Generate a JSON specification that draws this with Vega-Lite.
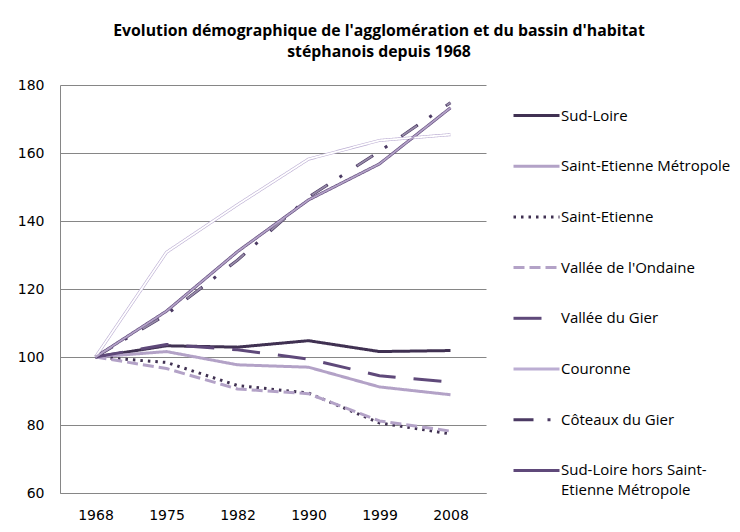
{
  "$schema": "https://vega.github.io/schema/vega-lite/v6.json",
  "autosize": "none",
  "width": 426,
  "height": 408,
  "padding": {"left": 60, "top": 85, "right": 254, "bottom": 39},
  "background": "white",
  "title": {
    "text": ["Evolution démographique de l'agglomération et du bassin d'habitat", "stéphanois depuis 1968"],
    "font": "Open Sans",
    "fontSize": 15.8,
    "fontWeight": "bold",
    "color": "#000000",
    "lineHeight": 21,
    "anchor": "middle",
    "dx": 106,
    "offset": 17
  },
  "config": {
    "view": {"stroke": null},
    "axis": {"labelFont": "DejaVu Sans", "labelFontSize": 14, "labelColor": "#000000", "domainColor": "#868686", "gridColor": "#868686", "ticks": false, "title": null}
  },
  "data": {
    "values": [
      {"series": "Sud-Loire", "year": "1968", "value": 100},
      {"series": "Sud-Loire", "year": "1975", "value": 103.3},
      {"series": "Sud-Loire", "year": "1982", "value": 102.9},
      {"series": "Sud-Loire", "year": "1990", "value": 104.8},
      {"series": "Sud-Loire", "year": "1999", "value": 101.6},
      {"series": "Sud-Loire", "year": "2008", "value": 101.9},
      {"series": "Saint-Etienne Métropole", "year": "1968", "value": 100},
      {"series": "Saint-Etienne Métropole", "year": "1975", "value": 101.6},
      {"series": "Saint-Etienne Métropole", "year": "1982", "value": 97.7},
      {"series": "Saint-Etienne Métropole", "year": "1990", "value": 97.0},
      {"series": "Saint-Etienne Métropole", "year": "1999", "value": 91.2},
      {"series": "Saint-Etienne Métropole", "year": "2008", "value": 88.9},
      {"series": "Saint-Etienne", "year": "1968", "value": 100},
      {"series": "Saint-Etienne", "year": "1975", "value": 98.4},
      {"series": "Saint-Etienne", "year": "1982", "value": 91.6},
      {"series": "Saint-Etienne", "year": "1990", "value": 89.4},
      {"series": "Saint-Etienne", "year": "1999", "value": 80.6},
      {"series": "Saint-Etienne", "year": "2008", "value": 77.4},
      {"series": "Vallée de l'Ondaine", "year": "1968", "value": 100},
      {"series": "Vallée de l'Ondaine", "year": "1975", "value": 96.6},
      {"series": "Vallée de l'Ondaine", "year": "1982", "value": 90.6},
      {"series": "Vallée de l'Ondaine", "year": "1990", "value": 89.2},
      {"series": "Vallée de l'Ondaine", "year": "1999", "value": 81.2},
      {"series": "Vallée de l'Ondaine", "year": "2008", "value": 78.2},
      {"series": "Vallée du Gier", "year": "1968", "value": 100},
      {"series": "Vallée du Gier", "year": "1975", "value": 103.7},
      {"series": "Vallée du Gier", "year": "1982", "value": 102.1},
      {"series": "Vallée du Gier", "year": "1990", "value": 99.4},
      {"series": "Vallée du Gier", "year": "1999", "value": 94.5},
      {"series": "Vallée du Gier", "year": "2008", "value": 92.6},
      {"series": "Couronne", "year": "1968", "value": 100},
      {"series": "Couronne", "year": "1975", "value": 130.8},
      {"series": "Couronne", "year": "1982", "value": 144.8},
      {"series": "Couronne", "year": "1990", "value": 158.2},
      {"series": "Couronne", "year": "1999", "value": 163.7},
      {"series": "Couronne", "year": "2008", "value": 165.4},
      {"series": "Côteaux du Gier", "year": "1968", "value": 100},
      {"series": "Côteaux du Gier", "year": "1975", "value": 112.5},
      {"series": "Côteaux du Gier", "year": "1982", "value": 128.5},
      {"series": "Côteaux du Gier", "year": "1990", "value": 147.0},
      {"series": "Côteaux du Gier", "year": "1999", "value": 160.5},
      {"series": "Côteaux du Gier", "year": "2008", "value": 174.8},
      {"series": "Sud-Loire hors Saint-Etienne Métropole", "year": "1968", "value": 100},
      {"series": "Sud-Loire hors Saint-Etienne Métropole", "year": "1975", "value": 113.5},
      {"series": "Sud-Loire hors Saint-Etienne Métropole", "year": "1982", "value": 131.0},
      {"series": "Sud-Loire hors Saint-Etienne Métropole", "year": "1990", "value": 146.2},
      {"series": "Sud-Loire hors Saint-Etienne Métropole", "year": "1999", "value": 156.8},
      {"series": "Sud-Loire hors Saint-Etienne Métropole", "year": "2008", "value": 173.3}
    ]
  },
  "encoding": {
    "x": {"field": "year", "type": "ordinal", "scale": {"type": "point", "padding": 0.5}, "axis": {"labelAngle": 0, "labelPadding": 15, "grid": false, "domain": true}},
    "y": {"field": "value", "type": "quantitative", "scale": {"domain": [60, 180], "nice": false}, "axis": {"values": [60, 80, 100, 120, 140, 160, 180], "labelPadding": 16, "grid": true, "domain": true}}
  },
  "layer": [
    {
      "mark": {"type": "line", "strokeCap": "butt", "strokeJoin": "round"},
      "encoding": {
        "color": {
          "field": "series", "type": "nominal",
          "scale": {
            "domain": ["Sud-Loire", "Saint-Etienne Métropole", "Saint-Etienne", "Vallée de l'Ondaine", "Vallée du Gier", "Couronne", "Côteaux du Gier", "Sud-Loire hors Saint-Etienne Métropole"],
            "range": ["#403152", "#b3a2c7", "#403152", "#b3a2c7", "#5f497a", "#bcaed3", "#4b3a63", "#5f497a"]
          },
          "legend": {
            "title": null, "orient": "right", "offset": 20, "padding": 6,
            "symbolType": "stroke", "symbolSize": 2116, "rowPadding": 17.7,
            "labelFont": "Open Sans", "labelFontSize": 15, "labelColor": "#000000", "labelOffset": 0, "labelLimit": 300,
            "labelExpr": "datum.label == 'Sud-Loire hors Saint-Etienne Métropole' ? ['Sud-Loire hors Saint-', 'Etienne Métropole'] : datum.label",
            "encode": {"labels": {"update": {"lineHeight": {"value": 20}}}}
          }
        },
        "strokeDash": {
          "field": "series", "type": "nominal",
          "scale": {
            "domain": ["Sud-Loire", "Saint-Etienne Métropole", "Saint-Etienne", "Vallée de l'Ondaine", "Vallée du Gier", "Couronne", "Côteaux du Gier", "Sud-Loire hors Saint-Etienne Métropole"],
            "range": [[1, 0], [1, 0], [2.5, 5], [11, 5], [28, 18], [1, 0], [20, 14, 3, 17], [1, 0]]
          },
          "legend": {"title": null}
        },
        "strokeWidth": {
          "field": "series", "type": "nominal",
          "scale": {
            "domain": ["Sud-Loire", "Saint-Etienne Métropole", "Saint-Etienne", "Vallée de l'Ondaine", "Vallée du Gier", "Couronne", "Côteaux du Gier", "Sud-Loire hors Saint-Etienne Métropole"],
            "range": [3, 3, 2.5, 3.5, 3.5, 4, 4.5, 5]
          },
          "legend": {"title": null}
        }
      }
    },
    {
      "transform": [{"filter": "datum.series == 'Couronne' || datum.series == 'Côteaux du Gier' || datum.series == 'Sud-Loire hors Saint-Etienne Métropole'"}],
      "mark": {"type": "line", "strokeCap": "butt", "strokeJoin": "round", "strokeWidth": 1.8},
      "encoding": {
        "detail": {"field": "series"},
        "color": {
          "condition": [
            {"test": "datum.series == 'Couronne'", "value": "#ffffff"},
            {"test": "datum.series == 'Côteaux du Gier'", "value": "#968aa8"}
          ],
          "value": "#b3a2c7"
        },
        "strokeDash": {
          "condition": {"test": "datum.series == 'Côteaux du Gier'", "value": [0, 1, 18, 35]},
          "value": [1, 0]
        }
      }
    }
  ]
}
